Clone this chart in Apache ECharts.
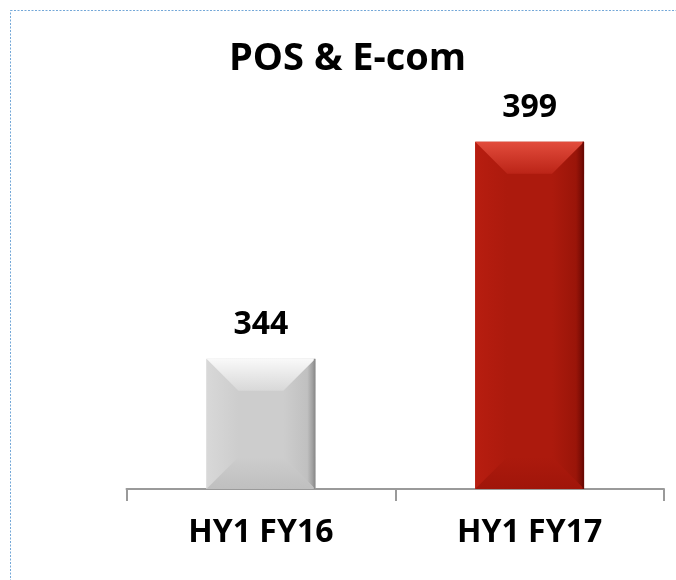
<!DOCTYPE html>
<html>
<head>
<meta charset="utf-8">
<style>
  html, body { margin: 0; padding: 0; background: #ffffff; }
  #chart { width: 676px; height: 580px; }
</style>
<script src="https://cdn.jsdelivr.net/npm/echarts@6/dist/echarts.min.js"></script>
</head>
<body>
<div id="chart"></div>
<script>
// ---- data ----
var titleText = 'POS & E-com';
var categories = ['HY1 FY16', 'HY1 FY17'];
var values = [344, 399];
var axisMin = 311;
var axisMax = 411;

// ---- styles (kept apart from data) ----
var FONT = '"Open Sans", "DejaVu Sans", sans-serif';
var palettes = [
  { body: '#cdcdcd', left: '#d8d8d8', right: '#c0c0c0', edge: '#8e8e8e',
    topA: '#f9f9f9', topB: '#d8d8d8', bottom: '#bfbfbf' },
  { body: '#ac1a0d', left: '#b71d10', right: '#9a1509', edge: '#6a0803',
    topA: '#e24c3c', topB: '#bb2417', bottom: '#a0150a' }
];

var chart = echarts.init(document.getElementById('chart'), null, { renderer: 'canvas' });

function renderBar(params, api) {
  var idx = params.dataIndex;
  var pal = palettes[idx % palettes.length];
  var v = api.value(1);
  var topPt = api.coord([api.value(0), v]);
  var basePt = api.coord([api.value(0), axisMin]);
  var w = api.size([1, 0])[0] * 0.405;
  var cx = topPt[0];
  var l = cx - w / 2, r = cx + w / 2, t = topPt[1], b = basePt[1];
  var h = b - t;
  var d = Math.min(32, h / 2, w / 2);
  var children = [
    // body
    { type: 'rect', shape: { x: l, y: t, width: w, height: h },
      style: { fill: new echarts.graphic.LinearGradient(0, 0, 1, 0, [
        { offset: 0, color: pal.left }, { offset: 0.3, color: pal.body },
        { offset: 0.7, color: pal.body }, { offset: 1, color: pal.right }]) } },
    // left bevel
    { type: 'polygon', shape: { points: [[l, t], [l + d, t + d], [l + d, b - d], [l, b]] },
      style: { fill: new echarts.graphic.LinearGradient(0, 0, 1, 0, [
        { offset: 0, color: pal.left }, { offset: 1, color: pal.body }]) } },
    // right bevel
    { type: 'polygon', shape: { points: [[r, t], [r - d, t + d], [r - d, b - d], [r, b]] },
      style: { fill: new echarts.graphic.LinearGradient(0, 0, 1, 0, [
        { offset: 0, color: pal.body }, { offset: 0.75, color: pal.right }, { offset: 1, color: pal.edge }]) } },
    // top bevel
    { type: 'polygon', shape: { points: [[l, t], [r, t], [r - d, t + d], [l + d, t + d]] },
      style: { fill: new echarts.graphic.LinearGradient(0, 0, 0, 1, [
        { offset: 0, color: pal.topA }, { offset: 1, color: pal.topB }]) } },
    // bottom bevel
    { type: 'polygon', shape: { points: [[l, b], [r, b], [r - d, b - d], [l + d, b - d]] },
      style: { fill: new echarts.graphic.LinearGradient(0, 0, 0, 1, [
        { offset: 0, color: pal.body }, { offset: 1, color: pal.bottom }]) } },
    // right dark edge line
    { type: 'rect', shape: { x: r - 1.5, y: t, width: 1.5, height: h },
      style: { fill: pal.edge } },
    // value label
    { type: 'text', style: { text: String(v), x: cx, y: t - 34,
        align: 'center', verticalAlign: 'middle',
        font: 'bold 32px ' + FONT, fill: '#000000' } }
  ];
  return { type: 'group', children: children };
}

chart.setOption({
  animation: false,
  backgroundColor: '#ffffff',
  title: {
    text: titleText,
    left: 224,
    top: 35,
    textStyle: { fontFamily: FONT, fontSize: 38, fontWeight: 'bold', color: '#000000' }
  },
  grid: { left: 126.5, right: 12, top: 94.5, bottom: 91, containLabel: false },
  xAxis: {
    type: 'category',
    data: categories,
    boundaryGap: true,
    axisLine: { show: true, lineStyle: { color: '#9a9a9a', width: 2 } },
    axisTick: { show: true, length: 12, lineStyle: { color: '#9a9a9a', width: 2 } },
    axisLabel: { margin: 28, fontFamily: FONT, fontSize: 32, fontWeight: 'bold', color: '#000000' },
    splitLine: { show: false }
  },
  yAxis: {
    type: 'value', min: axisMin, max: axisMax, show: false,
    splitLine: { show: false }
  },
  graphic: [{
    type: 'rect', silent: true, z: 100,
    shape: { x: 10.5, y: 10.5, width: 720, height: 640 },
    style: { fill: null, stroke: '#74a8d8', lineWidth: 1, lineDash: [2, 1.5] }
  }],
  series: [{
    type: 'custom',
    renderItem: renderBar,
    encode: { x: 0, y: 1 },
    data: categories.map(function (c, i) { return [i, values[i]]; })
  }]
});
</script>
</body>
</html>
